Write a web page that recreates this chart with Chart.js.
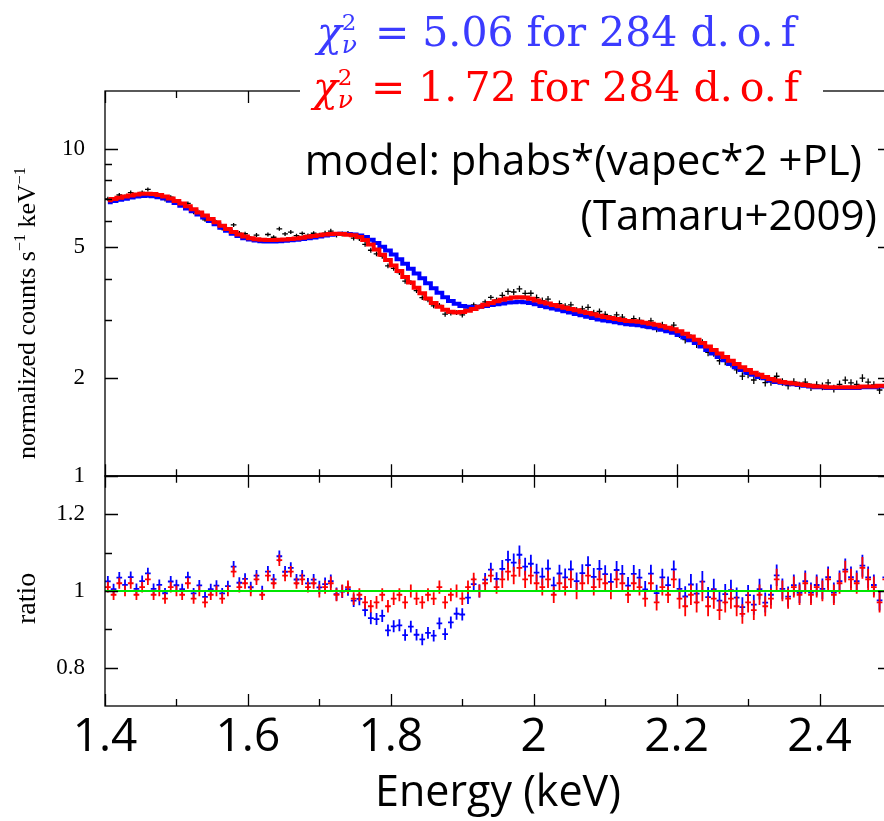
<!DOCTYPE html>
<html>
<head>
<meta charset="utf-8">
<script src="https://cdn.jsdelivr.net/npm/chart.js@4.4.1/dist/chart.umd.min.js"></script>
<style>
  html, body { margin: 0; padding: 0; background: #fff; }
  body { position: relative; width: 884px; height: 821px; overflow: hidden; }
  canvas { position: absolute; left: 0; }
  #chartTop { top: 0; }
  #chartRatio { top: 442px; }
  .chi { position: absolute; white-space: nowrap; font-family: 'DejaVu Serif', serif; font-size: 41px; line-height: 41px; }
  .it { font-style: italic; }
  .ss { display: inline-block; position: relative; width: 20px; height: 0; }
  .ss .sup { position: absolute; left: 0; top: -35px; font-size: 23px; line-height: 23px; font-style: normal; }
  .ss .sub { position: absolute; left: 0; top: -14px; font-size: 25px; line-height: 25px; }
  .gap { margin-left: 7px; }
  .note { position: absolute; white-space: nowrap; font-family: 'Open Sans', sans-serif; font-size: 42px; line-height: 42px; color: #000; text-align: right; }
  .ytitle { position: absolute; left: 0; top: 0; white-space: nowrap; font-family: 'Liberation Serif', serif;
            font-size: 26px; line-height: 26px; color: #000; transform-origin: 0 0; transform: rotate(-90deg); }
  .ytitle sup { font-size: 16px; line-height: 0; }
  #titleRatio { font-size: 28px; line-height: 28px; }
</style>
</head>
<body>
<canvas id="chartTop" width="900" height="510"></canvas>
<canvas id="chartRatio" width="900" height="379"></canvas>

<div class="chi" style="left:317px; top:12px; color:#3b3bff;"><span class="it">χ</span><span class="ss"><span class="sup">2</span><span class="sub it">ν</span></span> = 5.06 for 284 d.<span class="gap">o.</span><span class="gap">f</span></div>
<div class="chi" style="left:300px; top:67px; padding:0 24px 0 13px; background:#fff; color:#ff0000;"><span class="it">χ</span><span class="ss"><span class="sup">2</span><span class="sub it">ν</span></span> = 1.<span class="gap">72</span> for 284 d.<span class="gap">o.</span><span class="gap">f</span></div>

<div class="note" style="right:22px; top:138px;">model: phabs*(vapec*2 +PL)</div>
<div class="note" style="right:7px; top:193px;">(Tamaru+2009)</div>

<div class="ytitle" id="titleCounts">normalized counts s<sup>−1</sup> keV<sup>−1</sup></div>
<div class="ytitle" id="titleRatio">ratio</div>

<script>
'use strict';

// ── Data ──────────────────────────────────────────────────────
const E_START = 1.404;   // first bin centre, keV
const BIN     = 0.008;   // bin width, keV

// best-fit model 2 (red), counts s^-1 keV^-1
const RED_MODEL = [
  6.96, 7.02, 7.08, 7.14, 7.20, 7.25, 7.28, 7.29, 7.27, 7.22,
  7.14, 7.04, 6.92, 6.80, 6.67, 6.53, 6.39, 6.25, 6.10, 5.96,
  5.82, 5.69, 5.57, 5.47, 5.39, 5.33, 5.29, 5.27, 5.26, 5.26,
  5.27, 5.28, 5.30, 5.32, 5.35, 5.38, 5.41, 5.44, 5.47, 5.49,
  5.50, 5.49, 5.46, 5.44, 5.37, 5.26, 5.10, 4.92, 4.74, 4.57,
  4.40, 4.23, 4.06, 3.90, 3.76, 3.62, 3.49, 3.38, 3.29, 3.22,
  3.18, 3.16, 3.17, 3.20, 3.24, 3.29, 3.34, 3.38, 3.42, 3.46,
  3.49, 3.51, 3.52, 3.51, 3.48, 3.44, 3.40, 3.37, 3.33, 3.30,
  3.27, 3.24, 3.21, 3.18, 3.15, 3.12, 3.09, 3.06, 3.04, 3.02,
  3.00, 2.98, 2.97, 2.96, 2.94, 2.92, 2.90, 2.87, 2.84, 2.81,
  2.77, 2.72, 2.67, 2.61, 2.55, 2.49, 2.43, 2.37, 2.31, 2.25,
  2.20, 2.15, 2.11, 2.07, 2.04, 2.01, 1.98, 1.96, 1.94, 1.93,
  1.92, 1.91, 1.90, 1.89, 1.88, 1.88, 1.87, 1.87, 1.87, 1.87,
  1.87, 1.87, 1.88, 1.88, 1.88, 1.89, 1.89,
];

// model 1 (blue)
const BLUE_MODEL = [
  6.86, 6.92, 6.98, 7.03, 7.09, 7.14, 7.17, 7.18, 7.16, 7.11,
  7.04, 6.94, 6.82, 6.70, 6.57, 6.44, 6.30, 6.16, 6.01, 5.88,
  5.74, 5.62, 5.50, 5.41, 5.33, 5.28, 5.24, 5.22, 5.21, 5.21,
  5.22, 5.23, 5.25, 5.27, 5.30, 5.33, 5.36, 5.39, 5.43, 5.46,
  5.49, 5.50, 5.49, 5.47, 5.43, 5.37, 5.27, 5.15, 5.02, 4.89,
  4.75, 4.60, 4.45, 4.30, 4.16, 4.02, 3.88, 3.75, 3.63, 3.52,
  3.43, 3.36, 3.31, 3.29, 3.28, 3.29, 3.31, 3.33, 3.35, 3.37,
  3.39, 3.40, 3.41, 3.40, 3.38, 3.35, 3.31, 3.28, 3.25, 3.22,
  3.19, 3.16, 3.13, 3.10, 3.07, 3.04, 3.01, 2.99, 2.97, 2.95,
  2.93, 2.91, 2.90, 2.89, 2.87, 2.85, 2.83, 2.80, 2.77, 2.74,
  2.70, 2.65, 2.60, 2.55, 2.49, 2.43, 2.37, 2.31, 2.26, 2.20,
  2.15, 2.11, 2.07, 2.04, 2.01, 1.99, 1.96, 1.94, 1.93, 1.92,
  1.91, 1.90, 1.89, 1.88, 1.87, 1.87, 1.86, 1.86, 1.86, 1.86,
  1.86, 1.86, 1.87, 1.87, 1.87, 1.88, 1.88,
];

// data / red model
const RED_RATIO = [
  1.01, 0.99, 1.02, 1.00, 1.02, 0.99, 1.01, 1.03, 0.99, 1.00,
  0.98, 1.01, 1.00, 0.99, 1.02, 0.98, 1.00, 0.97, 0.99, 1.00,
  0.98, 1.00, 1.05, 1.01, 1.02, 1.00, 1.03, 0.99, 1.04, 1.02,
  1.08, 1.04, 1.05, 1.02, 1.03, 1.01, 1.02, 1.00, 1.01, 1.02,
  0.99, 1.00, 1.01, 0.98, 0.99, 0.97, 0.96, 0.97, 0.99, 0.96,
  0.98, 0.99, 0.97, 1.00, 0.98, 0.97, 0.99, 0.98, 1.01, 0.97,
  0.99, 1.00, 0.98, 1.01, 1.03, 1.00, 1.02, 1.04, 1.01, 1.03,
  1.05, 1.04, 1.06, 1.03, 1.04, 1.02, 1.01, 1.03, 0.99, 1.02,
  1.01, 1.03, 1.00, 1.02, 1.04, 1.01, 1.03, 1.02, 1.00, 1.03,
  1.02, 0.99, 1.02, 1.01, 0.98, 1.02, 0.97, 1.01, 0.99, 1.03,
  0.98, 0.96, 0.99, 0.97, 1.00, 0.96, 0.98, 0.95, 0.97, 0.98,
  0.96, 0.94, 0.97, 0.95, 0.99, 0.96, 0.98, 1.03, 1.00, 0.98,
  1.01, 0.99, 1.02, 0.99, 1.01, 1.00, 1.03, 0.99, 1.02, 1.05,
  1.03, 1.02, 1.06, 1.03, 1.01, 0.97, 1.03,
];

// relative 1-sigma errors, by energy band
const ERR_EDGES = [1.4, 1.7, 1.95, 2.2];
const ERR_REL   = [0.014, 0.017, 0.022, 0.027];

// axes
const X_MIN = 1.4, X_MAX = 2.5;
const X_TICKS       = [1.4, 1.6, 1.8, 2.0, 2.2, 2.4];
const X_TICK_LABELS = ['1.4', '1.6', '1.8', '2', '2.2', '2.4'];
const X_MINOR       = [1.5, 1.7, 1.9, 2.1, 2.3];
const Y_MIN = 1, Y_MAX = 15;
const Y_TICKS = [1, 2, 5, 10];
const Y_MINOR = [3, 4, 6, 7, 8, 9];
const R_MIN = 0.7, R_MAX = 1.3;
const R_TICKS = [0.8, 1, 1.2];
const R_MINOR = [0.9, 1.1];
const UNITY = 1;

// ── Derived series ─────────────────────────────────────────────
const ENERGY     = RED_MODEL.map((_, i) => +(E_START + i * BIN).toFixed(3));
const relErr     = e => { let r = ERR_REL[0]; ERR_EDGES.forEach((b, k) => { if (e >= b) r = ERR_REL[k]; }); return r; };
const COUNTS     = RED_MODEL.map((m, i) => m * RED_RATIO[i]);
const BLUE_RATIO = COUNTS.map((c, i) => c / BLUE_MODEL[i]);

const pts = ys => ENERGY.map((e, i) => ({ x: e, y: ys[i] }));

// ── Plugins ────────────────────────────────────────────────────
const crossPlugin = {
  id: 'crosses',
  afterDatasetDraw(chart, args) {
    const ds = chart.data.datasets[args.index];
    if (!ds.errors) return;
    const { ctx, chartArea: a, scales: { x, y } } = chart;
    ctx.save();
    ctx.beginPath();
    ctx.rect(a.left, a.top, a.right - a.left, a.bottom - a.top);
    ctx.clip();
    ctx.strokeStyle = ds.borderColor;
    ctx.lineWidth   = ds.borderWidth;
    ctx.beginPath();
    ds.data.forEach((p, i) => {
      const e  = ds.errors[i];
      const px = x.getPixelForValue(p.x);
      const py = y.getPixelForValue(p.y);
      ctx.moveTo(x.getPixelForValue(p.x - BIN / 2), py);
      ctx.lineTo(x.getPixelForValue(p.x + BIN / 2), py);
      ctx.moveTo(px, y.getPixelForValue(p.y - e));
      ctx.lineTo(px, y.getPixelForValue(p.y + e));
    });
    ctx.stroke();
    ctx.restore();
  },
};

const framePlugin = {
  id: 'frame',
  afterDraw(chart, args, opts) {
    const { ctx, chartArea: a, scales: { x, y } } = chart;
    ctx.save();
    ctx.strokeStyle = '#000';
    ctx.lineWidth   = 1.3;
    ctx.strokeRect(a.left, a.top, a.right - a.left, a.bottom - a.top);
    ctx.beginPath();
    const xt = (vals, len) => vals.forEach(v => {
      const px = Math.round(x.getPixelForValue(v)) + 0.5;
      ctx.moveTo(px, a.top);    ctx.lineTo(px, a.top + len);
      ctx.moveTo(px, a.bottom); ctx.lineTo(px, a.bottom - len);
    });
    const yt = (vals, len) => vals.forEach(v => {
      const py = Math.round(y.getPixelForValue(v)) + 0.5;
      ctx.moveTo(a.left, py);  ctx.lineTo(a.left + len, py);
      ctx.moveTo(a.right, py); ctx.lineTo(a.right - len, py);
    });
    xt(opts.xMajor, 12); xt(opts.xMinor, 7);
    yt(opts.yMajor, 13); yt(opts.yMinor, 7);
    ctx.stroke();
    ctx.restore();
  },
};

// ── Shared bits ────────────────────────────────────────────────
const SERIF = "'Liberation Serif', 'Times New Roman', serif";
const SANS  = "'Open Sans', sans-serif";

const yAxis = (type, min, max, ticks) => ({
  type, min, max,
  afterFit: s => { s.width = 105; },
  afterBuildTicks: s => { s.ticks = ticks.map(v => ({ value: v })); },
  grid:   { display: false, drawTicks: false },
  border: { display: false },
  ticks:  { color: '#000', padding: 20, font: { family: SERIF, size: 23 }, callback: v => String(v) },
});

const baseOpts = {
  responsive: false,
  animation:  false,
  events:     [],
  plugins:    { legend: { display: false }, tooltip: { enabled: false } },
};

// ── Spectrum panel ─────────────────────────────────────────────
new Chart(document.getElementById('chartTop'), {
  type: 'scatter',
  data: {
    datasets: [
      { type: 'line', label: 'model 2', data: pts(RED_MODEL), stepped: 'middle',
        borderColor: '#ff0000', borderWidth: 4, pointRadius: 0, order: 1 },
      { type: 'line', label: 'model 1', data: pts(BLUE_MODEL), stepped: 'middle',
        borderColor: '#0000ff', borderWidth: 4, pointRadius: 0, order: 2 },
      { label: 'data', data: pts(COUNTS), errors: COUNTS.map((c, i) => c * relErr(ENERGY[i])),
        borderColor: '#000', borderWidth: 1.3, pointRadius: 0, order: 3 },
    ],
  },
  options: {
    ...baseOpts,
    layout: { padding: { top: 91, right: 9, bottom: 24, left: 0 } },
    plugins: { ...baseOpts.plugins,
      frame: { xMajor: X_TICKS, xMinor: X_MINOR, yMajor: Y_TICKS, yMinor: Y_MINOR } },
    scales: {
      x: { type: 'linear', min: X_MIN, max: X_MAX, display: false },
      y: yAxis('logarithmic', Y_MIN, Y_MAX, Y_TICKS),
    },
  },
  plugins: [crossPlugin, framePlugin],
});

// ── Ratio panel ────────────────────────────────────────────────
new Chart(document.getElementById('chartRatio'), {
  type: 'scatter',
  data: {
    datasets: [
      { type: 'line', label: 'unity', data: [{ x: X_MIN, y: UNITY }, { x: X_MAX, y: UNITY }],
        borderColor: '#00e600', borderWidth: 2, pointRadius: 0, order: 0 },
      { label: 'ratio 2', data: pts(RED_RATIO), errors: RED_RATIO.map((r, i) => r * relErr(ENERGY[i])),
        borderColor: '#ff0000', borderWidth: 1.8, pointRadius: 0, order: 1 },
      { label: 'ratio 1', data: pts(BLUE_RATIO), errors: BLUE_RATIO.map((r, i) => r * relErr(ENERGY[i])),
        borderColor: '#0000ff', borderWidth: 1.8, pointRadius: 0, order: 2 },
    ],
  },
  options: {
    ...baseOpts,
    layout: { padding: { top: 6, right: 9, bottom: 0, left: 0 } },
    plugins: { ...baseOpts.plugins,
      frame: { xMajor: X_TICKS, xMinor: X_MINOR, yMajor: R_TICKS, yMinor: R_MINOR } },
    scales: {
      x: {
        type: 'linear', min: X_MIN, max: X_MAX,
        afterFit: s => { s.height = 115; },
        afterBuildTicks: s => { s.ticks = X_TICKS.map(v => ({ value: v })); },
        grid:   { display: false, drawTicks: false },
        border: { display: false },
        ticks:  { color: '#000', padding: 4, maxRotation: 0, autoSkip: false,
                  font: { family: SANS, size: 46 }, callback: (v, i) => X_TICK_LABELS[i] },
        title:  { display: true, text: 'Energy (keV)', color: '#000',
                  font: { family: SANS, size: 43 }, padding: { top: 0, bottom: 1 } },
      },
      y: yAxis('linear', R_MIN, R_MAX, R_TICKS),
    },
  },
  plugins: [crossPlugin, framePlugin],
});

// ── Rotated axis titles, centred on a given point ──────────────
function placeVertical(id, cx, cy) {
  const el = document.getElementById(id);
  const w = el.offsetWidth, h = el.offsetHeight;
  el.style.left = (cx - h / 2) + 'px';
  el.style.top  = (cy + w / 2) + 'px';
}
function placeTitles() {
  placeVertical('titleCounts', 27, 313);
  placeVertical('titleRatio', 26, 598);
}
placeTitles();
if (document.fonts && document.fonts.ready) document.fonts.ready.then(placeTitles);
</script>
</body>
</html>
